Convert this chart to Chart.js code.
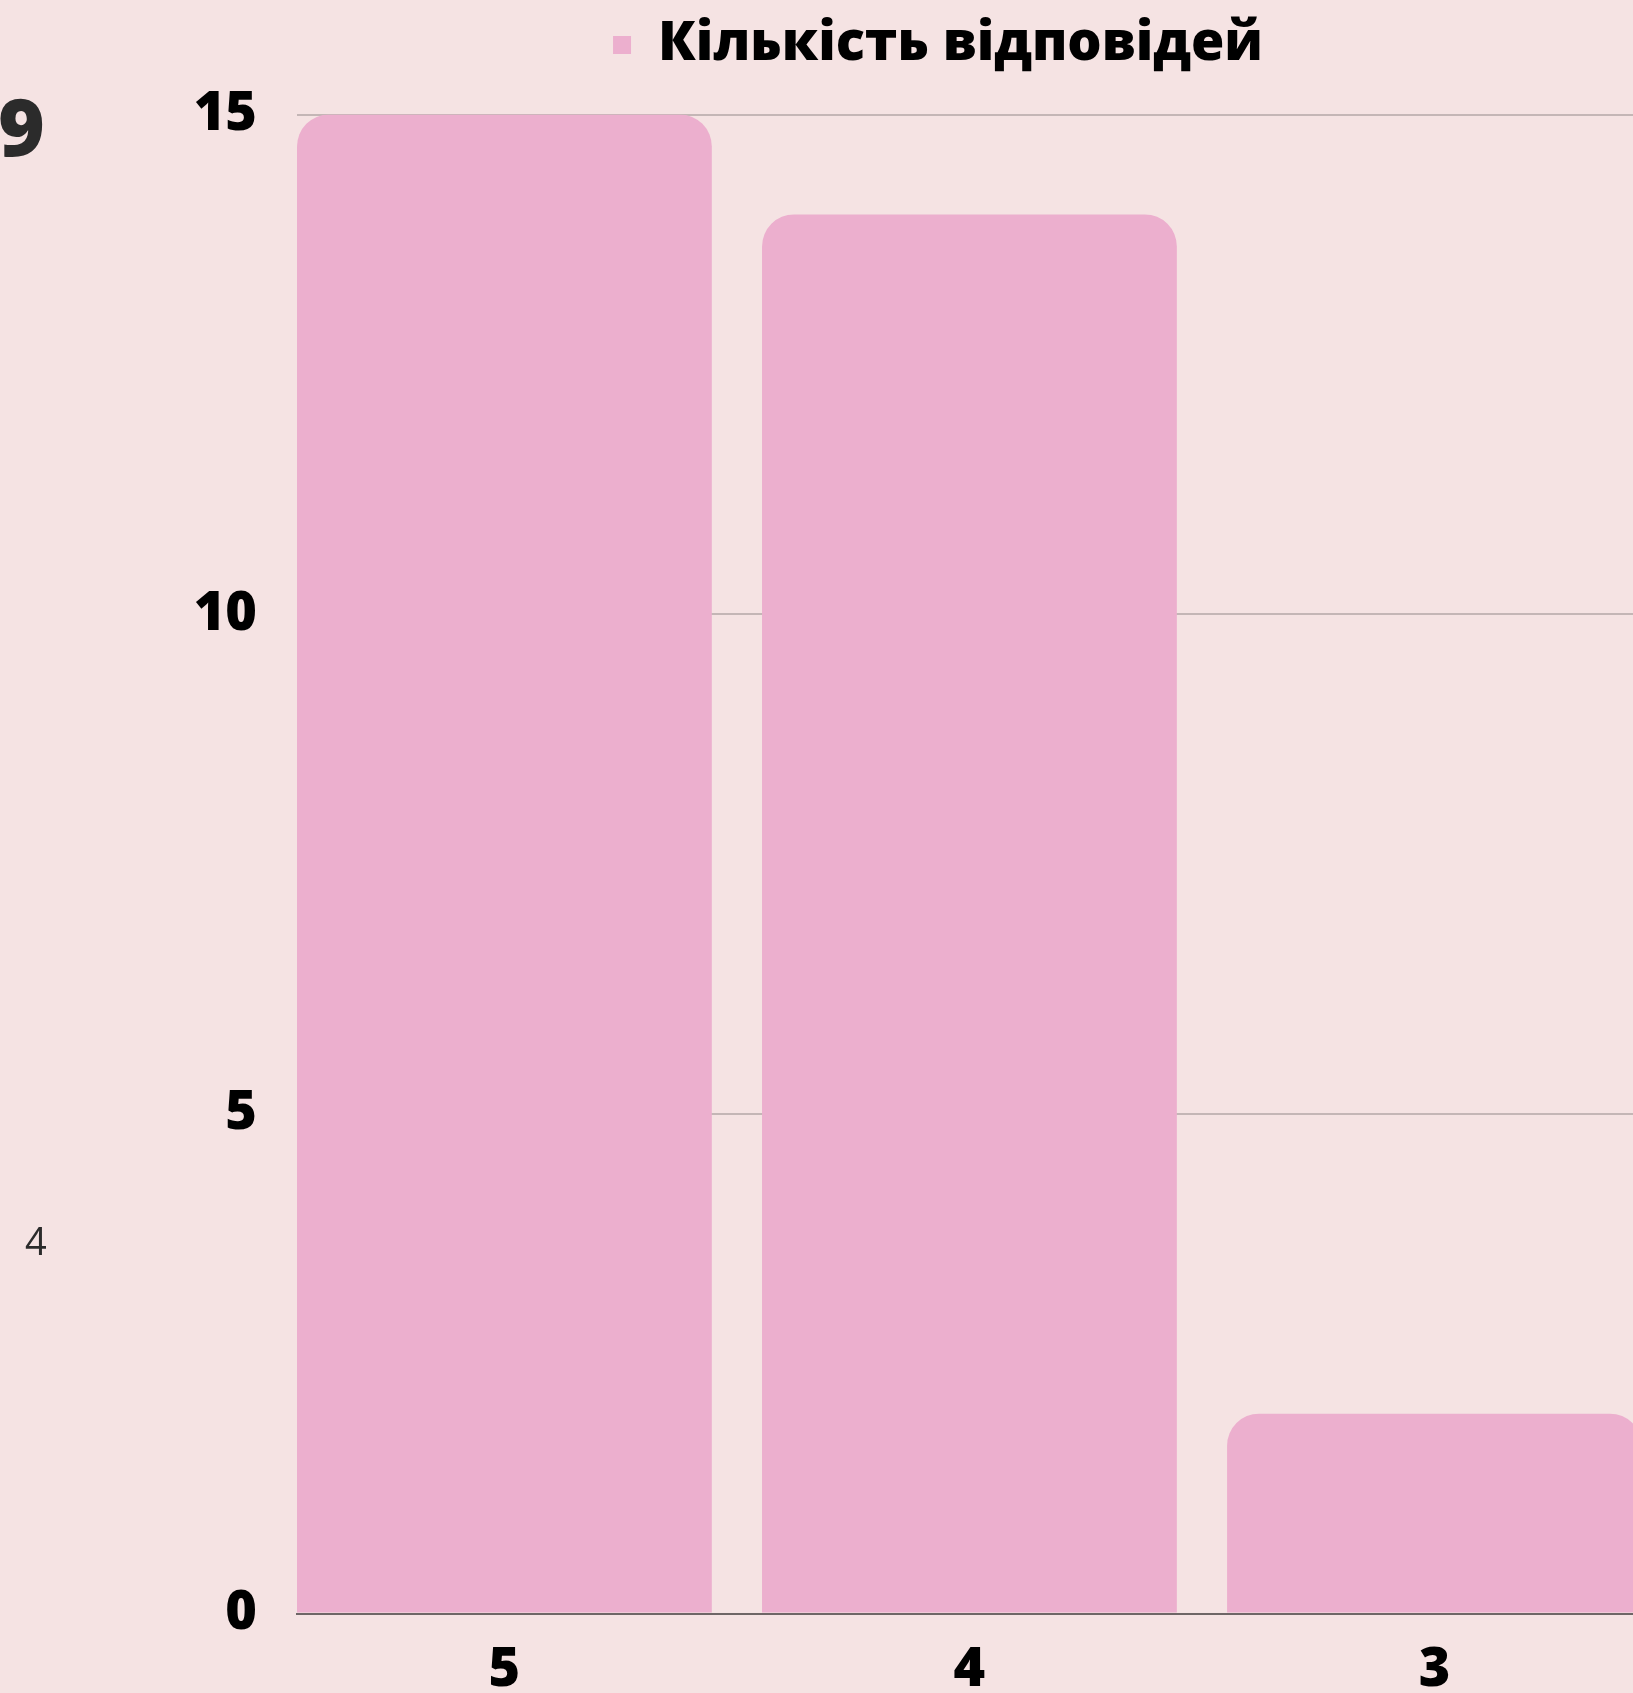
<!DOCTYPE html>
<html>
<head>
<meta charset="utf-8">
<script src="https://cdn.jsdelivr.net/npm/chart.js@4.4.0/dist/chart.umd.min.js"></script>
<style>
    body { margin: 0; background: #f5e3e3; overflow: hidden; }
    #wrap { position: relative; width: 1633px; height: 1693px; overflow: hidden; }
    #myChart { position: absolute; left: 0; top: 0; }
    .side { position: absolute; color: #2b2b2b; font-family: 'Open Sans', sans-serif; z-index: 2; }
    #side9 { left: -2px; top: 70px; font-size: 80px; font-weight: 800; }
    #side4 { left: 25px; top: 1214px; font-size: 38px; font-weight: 400; }
</style>
</head>
<body>
<div id="wrap">
    <div class="side" id="side9">9</div>
    <div class="side" id="side4">4</div>
    <canvas id="myChart" width="1876" height="1704"></canvas>
</div>
<script>
// Датасет
const categories = ['5', '4', '3'];
const counts = [15, 14, 2];
const yTicks = [0, 5, 10, 15];
const seriesName = 'Кількість відповідей';

Chart.defaults.font.family = "'Open Sans', sans-serif";

// відступ під легендою
const legendGap = {
    id: 'legendGap',
    beforeInit(chart) {
        const fit = chart.legend.fit;
        chart.legend.fit = function () {
            fit.call(this);
            this.height += 32.5;
        };
    }
};

var ctx = document.getElementById("myChart").getContext("2d");
var myChart = new Chart(ctx, {
    type: "bar",
    data: {
        datasets: [{
            label: seriesName,
            data: categories.map((c, i) => ({ x: i, y: counts[i] })),
            backgroundColor: '#ecafce',
            borderRadius: 32,
            borderSkipped: 'start',
            categoryPercentage: 1,
            barPercentage: 0.892
        }]
    },
    plugins: [legendGap],
    options: {
        responsive: false,
        maintainAspectRatio: false,
        animation: false,
        layout: { padding: { top: 8, right: 0, left: 0, bottom: 0 } },
        plugins: {
            tooltip: { enabled: false },
            legend: {
                position: 'top',
                labels: {
                    color: '#000',
                    boxWidth: 18,
                    boxHeight: 18,
                    padding: 10,
                    font: { size: 54, weight: 800 }
                }
            }
        },
        scales: {
            x: {
                type: 'linear',
                offset: false,
                min: -0.446,
                max: 2.5,
                grid: { display: false, drawTicks: false },
                border: { display: true, color: '#6e6666', width: 2 },
                ticks: {
                    stepSize: 1,
                    includeBounds: false,
                    autoSkip: false,
                    maxRotation: 0,
                    padding: 25,
                    color: '#000',
                    font: { size: 54, weight: 800 },
                    callback: v => categories[v] ?? ''
                },
                afterFit: s => { s.height = 1704 - 1613.5; s.paddingRight = 209; }
            },
            y: {
                min: 0,
                max: 15,
                grid: { color: '#c4b6b6', lineWidth: 2, drawTicks: false },
                border: { display: false },
                afterBuildTicks: s => { s.ticks = yTicks.map(v => ({ value: v })); },
                ticks: {
                    padding: 40,
                    color: '#000',
                    font: { size: 54, weight: 800 }
                },
                afterFit: s => { s.width = 297; }
            }
        }
    }
});
</script>
</body>
</html>
